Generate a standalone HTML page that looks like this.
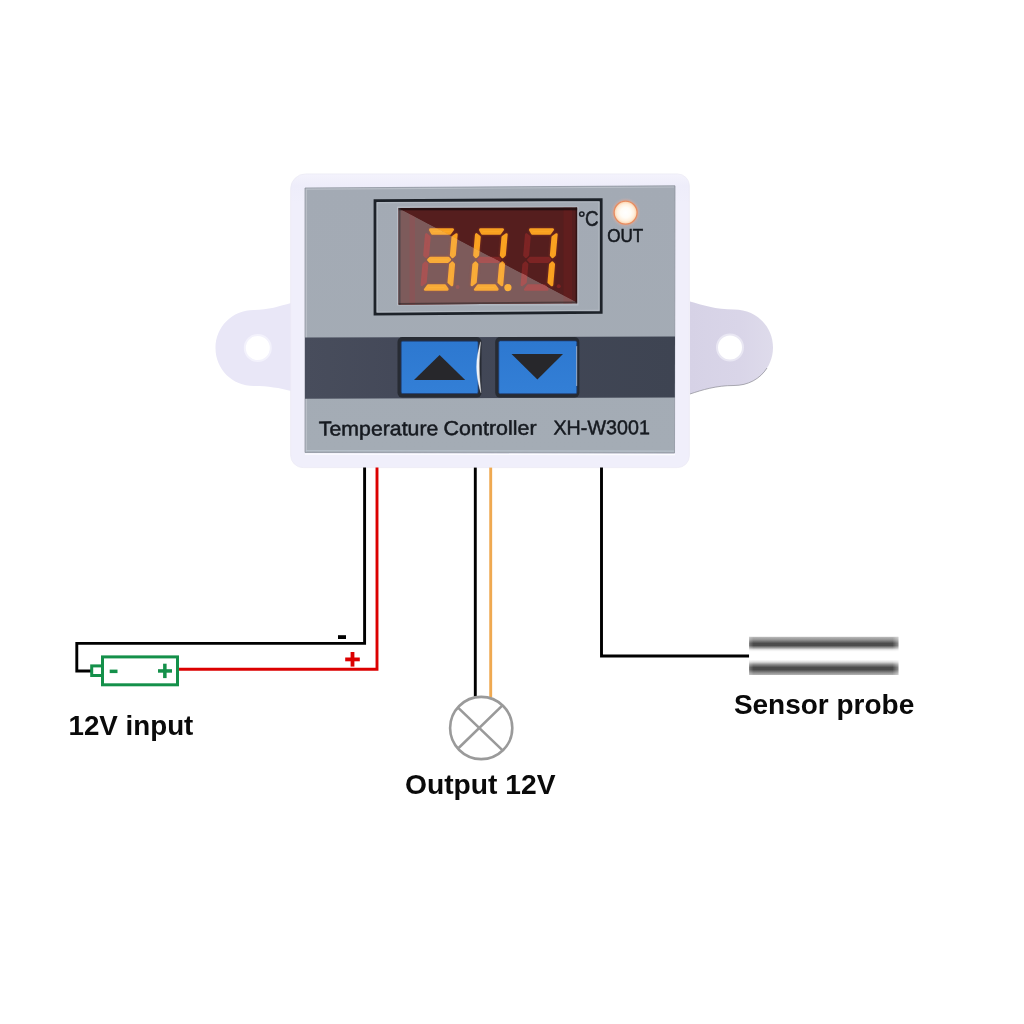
<!DOCTYPE html>
<html><head><meta charset="utf-8"><title>XH-W3001 wiring</title>
<style>
html,body{margin:0;padding:0;background:#fff;}
body{width:1024px;height:1024px;overflow:hidden;}
svg{display:block;}
text{font-family:"Liberation Sans",sans-serif;filter:opacity(1);}
</style></head><body>
<svg width="1024" height="1024" viewBox="0 0 1024 1024">
<defs>
 <linearGradient id="lit" x1="0" y1="0" x2="0" y2="1">
  <stop offset="0" stop-color="#fba428"/><stop offset="1" stop-color="#f8ad3c"/>
 </linearGradient>
 <linearGradient id="probe" x1="0" y1="0" x2="0" y2="1">
  <stop offset="0" stop-color="#bcbcbc"/>
  <stop offset="0.08" stop-color="#929292"/>
  <stop offset="0.17" stop-color="#4c4c4c"/>
  <stop offset="0.23" stop-color="#4c4c4c"/>
  <stop offset="0.29" stop-color="#a0a0a0"/>
  <stop offset="0.34" stop-color="#ececec"/>
  <stop offset="0.39" stop-color="#ffffff"/>
  <stop offset="0.60" stop-color="#ffffff"/>
  <stop offset="0.66" stop-color="#dcdcdc"/>
  <stop offset="0.73" stop-color="#868686"/>
  <stop offset="0.80" stop-color="#4a4a4a"/>
  <stop offset="0.86" stop-color="#4a4a4a"/>
  <stop offset="0.94" stop-color="#8c8c8c"/>
  <stop offset="1" stop-color="#b4b4b4"/>
 </linearGradient>
 <linearGradient id="probeEnd" x1="0" y1="0" x2="1" y2="0">
  <stop offset="0" stop-color="#fff" stop-opacity="0.25"/>
  <stop offset="0.03" stop-color="#fff" stop-opacity="0"/>
  <stop offset="0.96" stop-color="#fff" stop-opacity="0"/>
  <stop offset="1" stop-color="#fff" stop-opacity="0.4"/>
 </linearGradient>
 <radialGradient id="led" cx="0.5" cy="0.5" r="0.5">
  <stop offset="0" stop-color="#ffffff"/>
  <stop offset="0.45" stop-color="#fffcf6"/>
  <stop offset="0.75" stop-color="#ffefdc"/>
  <stop offset="1" stop-color="#fbcfa6"/>
 </radialGradient>
 <radialGradient id="ledhalo" cx="0.5" cy="0.5" r="0.5">
  <stop offset="0.8" stop-color="#e8a890" stop-opacity="0.55"/>
  <stop offset="1" stop-color="#d0b0b0" stop-opacity="0"/>
 </radialGradient>
 <linearGradient id="panel" x1="0" y1="0" x2="0" y2="1">
  <stop offset="0" stop-color="#a3aab4"/><stop offset="1" stop-color="#a4acb5"/>
 </linearGradient>
 <linearGradient id="earR" x1="0" y1="0" x2="1" y2="0">
  <stop offset="0" stop-color="#d6d2e6"/><stop offset="0.6" stop-color="#d9d5e8"/><stop offset="1" stop-color="#dedbeb"/>
 </linearGradient>
 <linearGradient id="band" x1="0" y1="0" x2="1" y2="0">
  <stop offset="0" stop-color="#484d5c"/><stop offset="0.3" stop-color="#434858"/><stop offset="1" stop-color="#3e4452"/>
 </linearGradient>
 <linearGradient id="bodyg" x1="0" y1="0" x2="0" y2="1">
  <stop offset="0" stop-color="#f4f3fc"/><stop offset="0.04" stop-color="#eeedfa"/><stop offset="0.1" stop-color="#f0effb"/><stop offset="1" stop-color="#f0effb"/>
 </linearGradient>
 <linearGradient id="btn" x1="0" y1="0" x2="0" y2="1">
  <stop offset="0" stop-color="#2d78d0"/><stop offset="1" stop-color="#337fd6"/>
 </linearGradient>
 <filter id="glow" x="-30%" y="-30%" width="160%" height="160%"><feGaussianBlur stdDeviation="1.3"/></filter>
 <clipPath id="glareclip"><polygon points="398.5,208 577.2,302.6 577.2,305 398.5,305"/></clipPath>
 <clipPath id="ledclip"><polygon points="398.5,208 577.2,207.5 577.2,303.2 398.5,304.7"/></clipPath>
</defs>
<rect width="1024" height="1024" fill="#ffffff"/>

<!-- ears -->
<path d="M291,303 C280,306 268,310 254,310 C232,310 215.5,327 215.5,348 C215.5,369 232,386 254,386 C268,386 280,388 291,391 Z" fill="#e9e7f7"/>
<circle cx="257.8" cy="348" r="13" fill="#ffffff" stroke="#f3f2fc" stroke-width="2"/>
<path d="M690,301.5 C702,305 716,309.5 734,309.5 C756,309.5 773,326 773,347.5 C773,369 756,385.5 734,385.5 C716,385.5 702,390 690,394 Z" fill="url(#earR)"/>
<path d="M690,394 C702,390 716,385.5 734,385.5 C748,385.5 760,379 767,368" fill="none" stroke="#8c8c94" stroke-width="1" stroke-opacity="0.7"/>
<circle cx="730" cy="347.5" r="13" fill="#ffffff" stroke="#e9e7f3" stroke-width="2"/>

<!-- body -->
<path d="M305.6,173.9 H677.4 A12,12 0 0 1 689.4,185.9 V455.6 A12,12 0 0 1 677.4,467.6 H303.1 A12.5,12.5 0 0 1 290.6,455.1 V188.9 A15,15 0 0 1 305.6,173.9 Z" fill="url(#bodyg)" stroke="#ebeaf4" stroke-width="0.7"/>
<polygon points="305,188 675,185.8 674.5,453 305,452.5" fill="url(#panel)" stroke="#8f959f" stroke-width="0.8"/>
<path d="M306.3,451.5 V189.2 L674,187" fill="none" stroke="#c9ced5" stroke-width="1.2" stroke-opacity="0.6"/>
<path d="M306,450.7 L674,451.1" fill="none" stroke="#bcc6cf" stroke-width="1.3" stroke-opacity="0.8"/>
<path d="M305,454.2 L675,454.7" fill="none" stroke="#fcfcff" stroke-width="1.2"/>
<polygon points="305,337.5 675,336.5 674.8,397.5 305,398.8" fill="url(#band)"/>

<!-- display frame -->
<polygon points="375,200.6 601.2,199.6 601.2,312.4 375,314.2" fill="none" stroke="#1d2229" stroke-width="2.8"/>
<polygon points="377.2,202.8 599,201.8 599,310.2 377.2,312" fill="none" stroke="#c3c8cf" stroke-width="1" stroke-opacity="0.55"/>
<rect x="397.6" y="207.1" width="180.3" height="97.8" fill="none" stroke="#c6cbd2" stroke-width="1" stroke-opacity="0.7"/>
<polygon points="398.5,208 577.2,207.5 577.2,303.2 398.5,304.7" fill="#551e1e"/>
<g clip-path="url(#ledclip)">
 <rect x="563.5" y="207" width="8.5" height="98" fill="#8a2020" fill-opacity="0.22"/>
 <g transform="translate(425.6,227.8) skewX(-5)" stroke-linejoin="round" stroke-width="2.7"><path fill="#7d2424" stroke="#7d2424" d="M2.99,35.00 L1.30,36.74 L1.30,57.11 L4.60,54.47 L4.60,36.73Z M1.30,6.69 L1.30,27.26 L2.99,29.00 L4.60,27.27 L4.60,9.33Z"/><path fill="#e0602c" stroke="#e0602c" stroke-width="3.4" opacity="0.30" filter="url(#glow)" d="M4.96,1.90 L7.22,5.60 L24.71,5.60 L27.15,1.90Z M31.30,6.69 L28.00,9.33 L28.00,27.27 L29.61,29.00 L31.30,27.26Z M5.73,32.00 L7.47,33.80 L25.13,33.80 L26.87,32.00 L25.13,30.20 L7.47,30.20Z M29.61,35.00 L28.00,36.73 L28.00,54.47 L31.30,57.11 L31.30,36.74Z M7.49,57.90 L5.05,61.60 L27.04,61.60 L24.34,57.90Z"/><path fill="#fca624" stroke="#f9a020" d="M4.96,1.90 L7.22,5.60 L24.71,5.60 L27.15,1.90Z M31.30,6.69 L28.00,9.33 L28.00,27.27 L29.61,29.00 L31.30,27.26Z M5.73,32.00 L7.47,33.80 L25.13,33.80 L26.87,32.00 L25.13,30.20 L7.47,30.20Z M29.61,35.00 L28.00,36.73 L28.00,54.47 L31.30,57.11 L31.30,36.74Z M7.49,57.90 L5.05,61.60 L27.04,61.60 L24.34,57.90Z"/></g><g transform="translate(475.6,227.8) skewX(-5)" stroke-linejoin="round" stroke-width="2.7"><path fill="#7d2424" stroke="#7d2424" d="M5.73,32.00 L7.47,33.80 L25.13,33.80 L26.87,32.00 L25.13,30.20 L7.47,30.20Z"/><path fill="#e0602c" stroke="#e0602c" stroke-width="3.4" opacity="0.30" filter="url(#glow)" d="M4.96,1.90 L7.22,5.60 L24.71,5.60 L27.15,1.90Z M31.30,6.69 L28.00,9.33 L28.00,27.27 L29.61,29.00 L31.30,27.26Z M29.61,35.00 L28.00,36.73 L28.00,54.47 L31.30,57.11 L31.30,36.74Z M7.49,57.90 L5.05,61.60 L27.04,61.60 L24.34,57.90Z M2.99,35.00 L1.30,36.74 L1.30,57.11 L4.60,54.47 L4.60,36.73Z M1.30,6.69 L1.30,27.26 L2.99,29.00 L4.60,27.27 L4.60,9.33Z"/><path fill="#fca624" stroke="#f9a020" d="M4.96,1.90 L7.22,5.60 L24.71,5.60 L27.15,1.90Z M31.30,6.69 L28.00,9.33 L28.00,27.27 L29.61,29.00 L31.30,27.26Z M29.61,35.00 L28.00,36.73 L28.00,54.47 L31.30,57.11 L31.30,36.74Z M7.49,57.90 L5.05,61.60 L27.04,61.60 L24.34,57.90Z M2.99,35.00 L1.30,36.74 L1.30,57.11 L4.60,54.47 L4.60,36.73Z M1.30,6.69 L1.30,27.26 L2.99,29.00 L4.60,27.27 L4.60,9.33Z"/></g><g transform="translate(525.6,227.8) skewX(-5)" stroke-linejoin="round" stroke-width="2.7"><path fill="#7d2424" stroke="#7d2424" d="M7.49,57.90 L5.05,61.60 L27.04,61.60 L24.34,57.90Z M2.99,35.00 L1.30,36.74 L1.30,57.11 L4.60,54.47 L4.60,36.73Z M1.30,6.69 L1.30,27.26 L2.99,29.00 L4.60,27.27 L4.60,9.33Z M5.73,32.00 L7.47,33.80 L25.13,33.80 L26.87,32.00 L25.13,30.20 L7.47,30.20Z"/><path fill="#e0602c" stroke="#e0602c" stroke-width="3.4" opacity="0.30" filter="url(#glow)" d="M4.96,1.90 L7.22,5.60 L24.71,5.60 L27.15,1.90Z M31.30,6.69 L28.00,9.33 L28.00,27.27 L29.61,29.00 L31.30,27.26Z M29.61,35.00 L28.00,36.73 L28.00,54.47 L31.30,57.11 L31.30,36.74Z"/><path fill="#fca624" stroke="#f9a020" d="M4.96,1.90 L7.22,5.60 L24.71,5.60 L27.15,1.90Z M31.30,6.69 L28.00,9.33 L28.00,27.27 L29.61,29.00 L31.30,27.26Z M29.61,35.00 L28.00,36.73 L28.00,54.47 L31.30,57.11 L31.30,36.74Z"/></g>
 <circle cx="507.9" cy="287.6" r="3.6" fill="#fba62a"/>
 <circle cx="558.7" cy="286.3" r="2.0" fill="#8a2222" fill-opacity="0.8"/>
 <g clip-path="url(#glareclip)">
  <polygon points="398.5,208 577.2,302.6 577.2,305 398.5,305" fill="#7d5b5b"/>
  <rect x="409.5" y="208" width="5.5" height="97" fill="#b04048" fill-opacity="0.22"/>
  <rect x="563.5" y="207" width="8.5" height="98" fill="#a04040" fill-opacity="0.2"/>
  <g transform="translate(425.6,227.8) skewX(-5)" stroke-linejoin="round" stroke-width="2.7"><path fill="#a85353" stroke="#a85353" d="M2.99,35.00 L1.30,36.74 L1.30,57.11 L4.60,54.47 L4.60,36.73Z M1.30,6.69 L1.30,27.26 L2.99,29.00 L4.60,27.27 L4.60,9.33Z"/><path fill="#e0602c" stroke="#e0602c" stroke-width="3.4" opacity="0.30" filter="url(#glow)" d="M4.96,1.90 L7.22,5.60 L24.71,5.60 L27.15,1.90Z M31.30,6.69 L28.00,9.33 L28.00,27.27 L29.61,29.00 L31.30,27.26Z M5.73,32.00 L7.47,33.80 L25.13,33.80 L26.87,32.00 L25.13,30.20 L7.47,30.20Z M29.61,35.00 L28.00,36.73 L28.00,54.47 L31.30,57.11 L31.30,36.74Z M7.49,57.90 L5.05,61.60 L27.04,61.60 L24.34,57.90Z"/><path fill="#fbb03a" stroke="#f8aa38" d="M4.96,1.90 L7.22,5.60 L24.71,5.60 L27.15,1.90Z M31.30,6.69 L28.00,9.33 L28.00,27.27 L29.61,29.00 L31.30,27.26Z M5.73,32.00 L7.47,33.80 L25.13,33.80 L26.87,32.00 L25.13,30.20 L7.47,30.20Z M29.61,35.00 L28.00,36.73 L28.00,54.47 L31.30,57.11 L31.30,36.74Z M7.49,57.90 L5.05,61.60 L27.04,61.60 L24.34,57.90Z"/></g><g transform="translate(475.6,227.8) skewX(-5)" stroke-linejoin="round" stroke-width="2.7"><path fill="#a85353" stroke="#a85353" d="M5.73,32.00 L7.47,33.80 L25.13,33.80 L26.87,32.00 L25.13,30.20 L7.47,30.20Z"/><path fill="#e0602c" stroke="#e0602c" stroke-width="3.4" opacity="0.30" filter="url(#glow)" d="M4.96,1.90 L7.22,5.60 L24.71,5.60 L27.15,1.90Z M31.30,6.69 L28.00,9.33 L28.00,27.27 L29.61,29.00 L31.30,27.26Z M29.61,35.00 L28.00,36.73 L28.00,54.47 L31.30,57.11 L31.30,36.74Z M7.49,57.90 L5.05,61.60 L27.04,61.60 L24.34,57.90Z M2.99,35.00 L1.30,36.74 L1.30,57.11 L4.60,54.47 L4.60,36.73Z M1.30,6.69 L1.30,27.26 L2.99,29.00 L4.60,27.27 L4.60,9.33Z"/><path fill="#fbb03a" stroke="#f8aa38" d="M4.96,1.90 L7.22,5.60 L24.71,5.60 L27.15,1.90Z M31.30,6.69 L28.00,9.33 L28.00,27.27 L29.61,29.00 L31.30,27.26Z M29.61,35.00 L28.00,36.73 L28.00,54.47 L31.30,57.11 L31.30,36.74Z M7.49,57.90 L5.05,61.60 L27.04,61.60 L24.34,57.90Z M2.99,35.00 L1.30,36.74 L1.30,57.11 L4.60,54.47 L4.60,36.73Z M1.30,6.69 L1.30,27.26 L2.99,29.00 L4.60,27.27 L4.60,9.33Z"/></g><g transform="translate(525.6,227.8) skewX(-5)" stroke-linejoin="round" stroke-width="2.7"><path fill="#a85353" stroke="#a85353" d="M7.49,57.90 L5.05,61.60 L27.04,61.60 L24.34,57.90Z M2.99,35.00 L1.30,36.74 L1.30,57.11 L4.60,54.47 L4.60,36.73Z M1.30,6.69 L1.30,27.26 L2.99,29.00 L4.60,27.27 L4.60,9.33Z M5.73,32.00 L7.47,33.80 L25.13,33.80 L26.87,32.00 L25.13,30.20 L7.47,30.20Z"/><path fill="#e0602c" stroke="#e0602c" stroke-width="3.4" opacity="0.30" filter="url(#glow)" d="M4.96,1.90 L7.22,5.60 L24.71,5.60 L27.15,1.90Z M31.30,6.69 L28.00,9.33 L28.00,27.27 L29.61,29.00 L31.30,27.26Z M29.61,35.00 L28.00,36.73 L28.00,54.47 L31.30,57.11 L31.30,36.74Z"/><path fill="#fbb03a" stroke="#f8aa38" d="M4.96,1.90 L7.22,5.60 L24.71,5.60 L27.15,1.90Z M31.30,6.69 L28.00,9.33 L28.00,27.27 L29.61,29.00 L31.30,27.26Z M29.61,35.00 L28.00,36.73 L28.00,54.47 L31.30,57.11 L31.30,36.74Z"/></g>
  <circle cx="457.6" cy="287" r="2.0" fill="#a85858" fill-opacity="0.7"/>
  <circle cx="507.9" cy="287.6" r="3.6" fill="#fbb03a"/>
  <circle cx="558.7" cy="286.3" r="2.0" fill="#a85050" fill-opacity="0.8"/>
 </g>
 <rect x="398.5" y="207" width="179" height="3.3" fill="#1a0c0e" fill-opacity="0.75"/>
 <rect x="398.5" y="208" width="2" height="97" fill="#303840" fill-opacity="0.55"/>
 <rect x="575.7" y="207" width="1.5" height="98" fill="#1a0c0e" fill-opacity="0.6"/>
 <polygon points="398.5,303 577.2,301.5 577.2,303.2 398.5,304.7" fill="#2a2022" fill-opacity="0.55"/>
</g>

<!-- degC -->
<circle cx="581.8" cy="214.1" r="2.2" fill="none" stroke="#1a1e24" stroke-width="1.5"/>
<text x="584.9" y="226.4" font-size="21.6" fill="#1a1e24" stroke="#1a1e24" stroke-width="0.5" textLength="13.6" lengthAdjust="spacingAndGlyphs">C</text>

<!-- LED -->
<circle cx="625.6" cy="212.6" r="15" fill="url(#ledhalo)"/>
<circle cx="625.6" cy="212.6" r="11.5" fill="url(#led)" stroke="#e88c60" stroke-width="1.3"/>
<text x="607.2" y="241.9" font-size="18.6" fill="#15191f" stroke="#15191f" stroke-width="0.55" textLength="36" lengthAdjust="spacingAndGlyphs">OUT</text>

<!-- buttons -->
<rect x="397.5" y="337.1" width="84" height="60.5" rx="5" fill="#272b33"/>
<rect x="401.2" y="341.2" width="76.9" height="52.3" rx="1.5" fill="url(#btn)" stroke="#1e3f78" stroke-width="0.7"/>
<path d="M480.5,341.8 C478.6,350 476.5,358 476.6,367 C476.7,377 478.8,386 480.9,392.8 C480.4,384 479.3,377 479.3,367 C479.3,357 480.1,350 480.5,341.8 Z" fill="#ffffff" fill-opacity="0.92" stroke="#ffffff" stroke-opacity="0.5" stroke-width="0.6"/>
<polygon points="439.6,355 465.2,380 414,380" fill="#27272b"/>
<rect x="495.2" y="337.1" width="84.2" height="60.5" rx="5" fill="#272b33"/>
<rect x="498.8" y="340.9" width="78" height="52.8" rx="1.5" fill="url(#btn)" stroke="#1e3f78" stroke-width="0.7"/>
<rect x="576" y="346" width="1.2" height="40" rx="0.6" fill="#ffffff" fill-opacity="0.45"/>
<polygon points="511.5,354 563,354 537.4,379.5" fill="#27272b"/>

<!-- label -->
<g transform="rotate(-0.25 484 428)" fill="#161a20" stroke="#161a20" stroke-width="0.5" font-size="20.1">
<text x="318.8" y="434.9" textLength="119.5" lengthAdjust="spacingAndGlyphs">Temperature</text>
<text x="443.6" y="434.9" textLength="93" lengthAdjust="spacingAndGlyphs">Controller</text>
<text x="553.4" y="434.9" textLength="96.5" lengthAdjust="spacingAndGlyphs">XH-W3001</text>
</g>

<!-- wires -->
<g fill="none" stroke-width="2.9" stroke-linejoin="miter">
<path d="M364.6,467.6 V643.4 H76.8 V671 H91" stroke="#000"/>
<path d="M377,467.6 V669.3 H179" stroke="#dc0000"/>
<path d="M475.3,467.6 V696.5" stroke="#000"/>
<path d="M490.7,467.6 V697.5" stroke="#efa951"/>
<path d="M601.5,467.6 V656 H749.5" stroke="#000"/>
</g>

<!-- battery -->
<g fill="none" stroke="#14904a" stroke-width="3">
<rect x="102.5" y="656.9" width="75" height="27.9"/>
<rect x="91.7" y="665.9" width="10.8" height="9.6"/>
</g>
<rect x="109.7" y="669.6" width="7.8" height="3.5" fill="#14904a"/>
<rect x="158" y="669.2" width="14" height="3.5" fill="#14904a"/>
<rect x="163.1" y="663.7" width="3.5" height="14.4" fill="#14904a"/>

<!-- polarity marks -->
<rect x="338" y="635.2" width="8" height="3.8" fill="#000"/>
<rect x="345.2" y="657.5" width="14.6" height="3.8" fill="#dc0000"/>
<rect x="350.6" y="652" width="3.8" height="14.6" fill="#dc0000"/>

<!-- lamp -->
<g fill="none" stroke="#9a9a9a" stroke-width="2.6">
<circle cx="481.2" cy="728" r="31.1"/>
<path d="M458.3,707.9 L502.9,750.6 M503,704.9 L458.6,748"/>
</g>

<!-- probe -->
<rect x="749.1" y="636.8" width="149.3" height="38.2" fill="url(#probe)"/>
<rect x="749.1" y="636.8" width="149.3" height="38.2" fill="url(#probeEnd)"/>

<!-- captions -->
<g font-weight="bold" fill="#0a0a0a">
<text x="68.5" y="735" font-size="27.5" textLength="124.8" lengthAdjust="spacingAndGlyphs">12V input</text>
<text x="405" y="793.5" font-size="28" textLength="150.5" lengthAdjust="spacingAndGlyphs">Output 12V</text>
<text x="733.9" y="714.4" font-size="27.5" textLength="180.3" lengthAdjust="spacingAndGlyphs">Sensor probe</text>
</g>
</svg>
</body></html>
